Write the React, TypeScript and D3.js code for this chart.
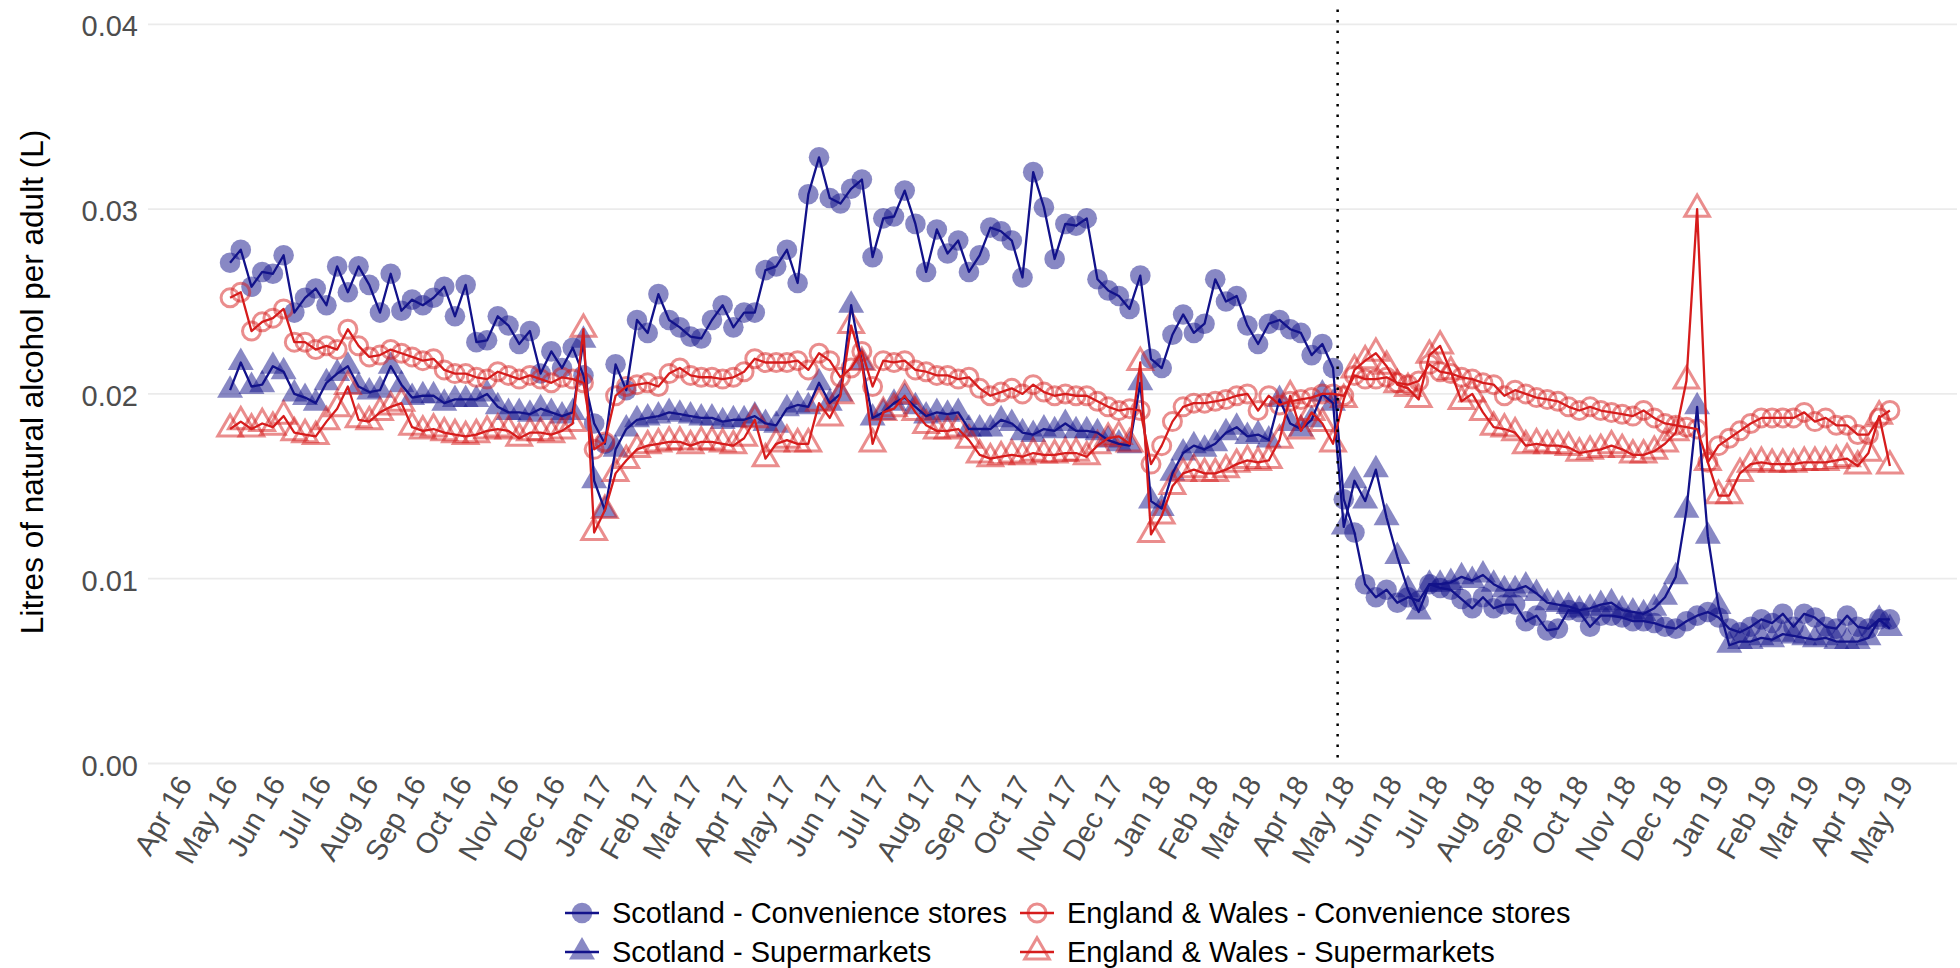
import React from "react";
import * as d3 from "d3";

// Weekly litres of natural alcohol per adult, off-trade sales
const scotlandConvenience = [
  0.0271, 0.0278, 0.0258, 0.0266, 0.0265, 0.0275, 0.0244, 0.0252, 0.0257, 0.0248,
  0.0269, 0.0255, 0.0269, 0.0259, 0.0244, 0.0265, 0.0245, 0.0251, 0.0248, 0.0252,
  0.0258, 0.0242, 0.0259, 0.0228, 0.0229, 0.0242, 0.0237, 0.0227, 0.0234, 0.0211,
  0.0223, 0.0214, 0.0225, 0.0210, 0.0184, 0.0173, 0.0216, 0.0202, 0.0240, 0.0233,
  0.0254, 0.0240, 0.0236, 0.0231, 0.0230, 0.0240, 0.0248, 0.0236, 0.0244, 0.0244,
  0.0267, 0.0269, 0.0278, 0.0260, 0.0308, 0.0328, 0.0306, 0.0303, 0.0311, 0.0316,
  0.0274, 0.0295, 0.0296, 0.0310, 0.0292, 0.0266, 0.0289, 0.0276, 0.0283, 0.0266,
  0.0275, 0.0290, 0.0288, 0.0283, 0.0263, 0.0320, 0.0301, 0.0273, 0.0292, 0.0291,
  0.0295, 0.0262, 0.0256, 0.0253, 0.0246, 0.0264, 0.0219, 0.0214, 0.0232, 0.0243,
  0.0233, 0.0238, 0.0262, 0.0250, 0.0253, 0.0237, 0.0227, 0.0238, 0.0240, 0.0235,
  0.0233, 0.0221, 0.0227, 0.0214, 0.0143, 0.0125, 0.0097, 0.0090, 0.0094, 0.0087,
  0.0090, 0.0088, 0.0097, 0.0095, 0.0094, 0.0089, 0.0084, 0.0090, 0.0084, 0.0086,
  0.0086, 0.0077, 0.0080, 0.0072, 0.0073, 0.0083, 0.0082, 0.0074, 0.0080, 0.0080,
  0.0079, 0.0077, 0.0077, 0.0076, 0.0074, 0.0073, 0.0077, 0.0080, 0.0082, 0.0079,
  0.0073, 0.0071, 0.0074, 0.0078, 0.0076, 0.0081, 0.0074, 0.0081, 0.0079, 0.0074,
  0.0073, 0.0080, 0.0074, 0.0073, 0.0078, 0.0078,
];

const scotlandSupermarkets = [
  0.0202, 0.0217, 0.0204, 0.0205, 0.0215, 0.0212, 0.0200, 0.0198, 0.0195, 0.0206,
  0.0211, 0.0215, 0.0204, 0.0201, 0.0202, 0.0215, 0.0205, 0.0198, 0.0199, 0.0199,
  0.0195, 0.0197, 0.0197, 0.0197, 0.0200, 0.0193, 0.0190, 0.0190, 0.0189, 0.0192,
  0.0190, 0.0188, 0.0190, 0.0229, 0.0153, 0.0137, 0.0170, 0.0181, 0.0186, 0.0187,
  0.0188, 0.0190, 0.0189, 0.0188, 0.0187, 0.0187, 0.0185, 0.0186, 0.0186, 0.0188,
  0.0184, 0.0183, 0.0192, 0.0194, 0.0193, 0.0206, 0.0195, 0.0200, 0.0248, 0.0217,
  0.0187, 0.0190, 0.0195, 0.0198, 0.0193, 0.0188, 0.0190, 0.0189, 0.0190, 0.0181,
  0.0181, 0.0181, 0.0186, 0.0184, 0.0179, 0.0178, 0.0181, 0.0180, 0.0184, 0.0180,
  0.0180, 0.0179, 0.0175, 0.0173, 0.0172, 0.0206, 0.0142, 0.0138, 0.0157, 0.0168,
  0.0172, 0.0170, 0.0173, 0.0179, 0.0182, 0.0177, 0.0178, 0.0175, 0.0197, 0.0184,
  0.0181, 0.0186, 0.0200, 0.0195, 0.0128, 0.0153, 0.0142, 0.0159, 0.0133, 0.0112,
  0.0094, 0.0082, 0.0097, 0.0097, 0.0098, 0.0101, 0.0099, 0.0102, 0.0097, 0.0094,
  0.0094, 0.0096, 0.0092, 0.0087, 0.0086, 0.0085, 0.0083, 0.0084, 0.0086, 0.0087,
  0.0083, 0.0082, 0.0081, 0.0084, 0.0090, 0.0101, 0.0137, 0.0193, 0.0123, 0.0085,
  0.0064, 0.0066, 0.0066, 0.0068, 0.0067, 0.0070, 0.0069, 0.0068, 0.0067, 0.0068,
  0.0066, 0.0066, 0.0066, 0.0068, 0.0078, 0.0073,
];

const englandWalesConvenience = [
  0.0252, 0.0255, 0.0234, 0.0239, 0.0241, 0.0246, 0.0228, 0.0228, 0.0224, 0.0226,
  0.0224, 0.0235, 0.0226, 0.0220, 0.0221, 0.0224, 0.0222, 0.0220, 0.0218, 0.0219,
  0.0213, 0.0211, 0.0211, 0.0209, 0.0208, 0.0212, 0.0210, 0.0208, 0.0210, 0.0208,
  0.0206, 0.0209, 0.0208, 0.0206, 0.0170, 0.0174, 0.0199, 0.0204, 0.0205, 0.0206,
  0.0204, 0.0211, 0.0214, 0.0210, 0.0209, 0.0209, 0.0208, 0.0209, 0.0212, 0.0219,
  0.0217, 0.0217, 0.0217, 0.0218, 0.0213, 0.0222, 0.0218, 0.0209, 0.0214, 0.0223,
  0.0204, 0.0218, 0.0217, 0.0218, 0.0213, 0.0212, 0.0210, 0.0210, 0.0208, 0.0209,
  0.0203, 0.0199, 0.0201, 0.0203, 0.0200, 0.0205, 0.0201, 0.0199, 0.0200, 0.0199,
  0.0199, 0.0196, 0.0193, 0.0191, 0.0192, 0.0191, 0.0162, 0.0172, 0.0185, 0.0193,
  0.0195, 0.0195, 0.0196, 0.0197, 0.0199, 0.0200, 0.0191, 0.0199, 0.0194, 0.0196,
  0.0197, 0.0198, 0.0200, 0.0200, 0.0199, 0.0210, 0.0208, 0.0208, 0.0209, 0.0206,
  0.0205, 0.0207, 0.0216, 0.0212, 0.0211, 0.0209, 0.0208, 0.0206, 0.0205, 0.0199,
  0.0202, 0.0200, 0.0198, 0.0197, 0.0196, 0.0193, 0.0191, 0.0193, 0.0191, 0.0190,
  0.0189, 0.0188, 0.0191, 0.0187, 0.0184, 0.0183, 0.0182, 0.0181, 0.0163, 0.0172,
  0.0176, 0.0180, 0.0184, 0.0187, 0.0187, 0.0187, 0.0187, 0.0190, 0.0185, 0.0187,
  0.0183, 0.0183, 0.0178, 0.0178, 0.0187, 0.0191,
];

const englandWalesSupermarkets = [
  0.0181, 0.0185, 0.0181, 0.0184, 0.0182, 0.0188, 0.0179, 0.0178, 0.0177, 0.0185,
  0.0192, 0.0204, 0.0186, 0.0185, 0.0190, 0.0193, 0.0195, 0.0182, 0.0180, 0.0181,
  0.0179, 0.0178, 0.0177, 0.0178, 0.0180, 0.0181, 0.0180, 0.0176, 0.0179, 0.0179,
  0.0178, 0.0180, 0.0184, 0.0235, 0.0125, 0.0137, 0.0157, 0.0164, 0.0170, 0.0172,
  0.0173, 0.0174, 0.0174, 0.0172, 0.0174, 0.0174, 0.0173, 0.0172, 0.0176, 0.0186,
  0.0165, 0.0173, 0.0175, 0.0173, 0.0173, 0.0195, 0.0187, 0.0199, 0.0237, 0.0217,
  0.0173, 0.0190, 0.0192, 0.0199, 0.0190, 0.0183, 0.0180, 0.0180, 0.0181, 0.0175,
  0.0167, 0.0165, 0.0166, 0.0167, 0.0166, 0.0168, 0.0167, 0.0167, 0.0168, 0.0168,
  0.0166, 0.0172, 0.0176, 0.0177, 0.0173, 0.0217, 0.0124, 0.0134, 0.0150, 0.0157,
  0.0159, 0.0157, 0.0157, 0.0159, 0.0162, 0.0164, 0.0163, 0.0164, 0.0175, 0.0199,
  0.0180, 0.0190, 0.0184, 0.0173, 0.0197, 0.0213, 0.0218, 0.0222, 0.0215, 0.0205,
  0.0203, 0.0197, 0.0221, 0.0226, 0.0212, 0.0196, 0.0200, 0.0190, 0.0182, 0.0181,
  0.0179, 0.0172, 0.0173, 0.0172, 0.0172, 0.0171, 0.0168, 0.0169, 0.0170, 0.0172,
  0.0170, 0.0167, 0.0167, 0.0169, 0.0173, 0.0179, 0.0207, 0.0300, 0.0163, 0.0145,
  0.0145, 0.0157, 0.0162, 0.0163, 0.0162, 0.0162, 0.0162, 0.0163, 0.0163, 0.0163,
  0.0164, 0.0165, 0.0161, 0.0168, 0.0188, 0.0161,
];

// Week-ending dates (Saturdays), 7 May 2016 to 27 April 2019
const weekDates = d3.utcSaturday.range(
  new Date(Date.UTC(2016, 4, 7)),
  new Date(Date.UTC(2019, 4, 1))
);

// Minimum unit pricing introduced in Scotland
const mupDate = new Date(Date.UTC(2018, 4, 1));

const monthTicks = d3.utcMonth.range(
  new Date(Date.UTC(2016, 3, 1)),
  new Date(Date.UTC(2019, 4, 2))
);

const yTicks = [0, 0.01, 0.02, 0.03, 0.04];

const seriesNames = [
  "Scotland - Convenience stores",
  "Scotland - Supermarkets",
  "England & Wales - Convenience stores",
  "England & Wales - Supermarkets",
];

const BLUE = "#12128a";
const RED = "#d61c1c";
const FONT = "'Liberation Sans', Arial, Helvetica, sans-serif";

type Series = {
  name: string;
  values: number[];
  color: string;
  shape: "circle" | "triangle";
  filled: boolean;
};

const series: Series[] = [
  { name: seriesNames[0], values: scotlandConvenience, color: BLUE, shape: "circle", filled: true },
  { name: seriesNames[1], values: scotlandSupermarkets, color: BLUE, shape: "triangle", filled: true },
  { name: seriesNames[2], values: englandWalesConvenience, color: RED, shape: "circle", filled: false },
  { name: seriesNames[3], values: englandWalesSupermarkets, color: RED, shape: "triangle", filled: false },
];

const W = 1960;
const H = 968;
const panel = { left: 148, right: 1957, top: 9.5, bottom: 763.5 };

const x = d3
  .scaleUtc()
  .domain([new Date(Date.UTC(2016, 3, 1)), new Date(Date.UTC(2019, 4, 1))])
  .range([175, 1896]);

const y = d3.scaleLinear().domain([0, 0.04]).range([763.5, 24.3]);

const fmtMonth = d3.utcFormat("%b %y");
const fmtY = d3.format(".2f");

const triFilled = d3.symbol().type(d3.symbolTriangle).size(292)() as string;
const triOpen = d3.symbol().type(d3.symbolTriangle).size(262)() as string;

function Marker({ s, cx, cy }: { s: Series; cx: number; cy: number }) {
  if (s.shape === "circle") {
    return s.filled ? (
      <circle cx={cx} cy={cy} r={10.3} fill={s.color} fillOpacity={0.5} />
    ) : (
      <circle cx={cx} cy={cy} r={9} fill="none" stroke={s.color} strokeOpacity={0.5} strokeWidth={3} />
    );
  }
  return s.filled ? (
    <path d={triFilled} transform={`translate(${cx},${cy})`} fill={s.color} fillOpacity={0.5} />
  ) : (
    <path
      d={triOpen}
      transform={`translate(${cx},${cy})`}
      fill="none"
      stroke={s.color}
      strokeOpacity={0.5}
      strokeWidth={3}
    />
  );
}

export default function App() {
  const line = d3
    .line<number>()
    .x((_, i) => x(weekDates[i]))
    .y((v) => y(v));

  const legendCols = [582, 1037];
  const legendRows = [913, 952];
  const legendItems = [
    { s: series[0], col: 0, row: 0 },
    { s: series[1], col: 0, row: 1 },
    { s: series[2], col: 1, row: 0 },
    { s: series[3], col: 1, row: 1 },
  ];

  return (
    <svg
      width={W}
      height={H}
      viewBox={`0 0 ${W} ${H}`}
      style={{ position: "absolute", left: 0, top: 0, background: "#ffffff" }}
      fontFamily={FONT}
    >
      <rect x={0} y={0} width={W} height={H} fill="#ffffff" />

      {/* horizontal grid */}
      {yTicks.map((t) => (
        <line
          key={`g${t}`}
          x1={panel.left}
          x2={panel.right}
          y1={y(t)}
          y2={y(t)}
          stroke="#ebebeb"
          strokeWidth={1.8}
        />
      ))}

      {/* y tick labels */}
      {yTicks.map((t) => (
        <text
          key={`yl${t}`}
          x={138}
          y={y(t) + 12}
          textAnchor="end"
          fontSize={29}
          fill="#4d4d4d"
        >
          {fmtY(t)}
        </text>
      ))}

      {/* y axis title */}
      <text
        transform="translate(43,382) rotate(-90)"
        textAnchor="middle"
        fontSize={31.5}
        fill="#000000"
      >
        Litres of natural alcohol per adult (L)
      </text>

      {/* x tick labels */}
      {monthTicks.map((d) => (
        <text
          key={`xl${d.getTime()}`}
          transform={`translate(${x(d) + 18},${783.4}) rotate(-60)`}
          textAnchor="end"
          fontSize={29}
          fill="#4d4d4d"
        >
          {fmtMonth(d)}
        </text>
      ))}

      {/* markers */}
      {series.map((s) => (
        <g key={`p-${s.name}`}>
          {s.values.map((v, i) => (
            <Marker key={i} s={s} cx={x(weekDates[i])} cy={y(v)} />
          ))}
        </g>
      ))}

      {/* lines */}
      {series.map((s) => (
        <path
          key={`l-${s.name}`}
          d={line(s.values) as string}
          fill="none"
          stroke={s.color}
          strokeWidth={2.3}
          strokeLinejoin="round"
        />
      ))}

      {/* minimum unit pricing marker */}
      <line
        x1={x(mupDate)}
        x2={x(mupDate)}
        y1={panel.top}
        y2={panel.bottom}
        stroke="#000000"
        strokeWidth={2.5}
        strokeDasharray="2.5 8"
      />

      {/* legend */}
      {legendItems.map(({ s, col, row }) => {
        const kx = legendCols[col];
        const ky = legendRows[row];
        return (
          <g key={`lg-${s.name}`}>
            <Marker s={s} cx={kx} cy={ky} />
            <line x1={kx - 17} x2={kx + 17} y1={ky} y2={ky} stroke={s.color} strokeWidth={2.3} />
            <text x={kx + 30} y={ky + 10} fontSize={29} fill="#000000">
              {s.name}
            </text>
          </g>
        );
      })}
    </svg>
  );
}
